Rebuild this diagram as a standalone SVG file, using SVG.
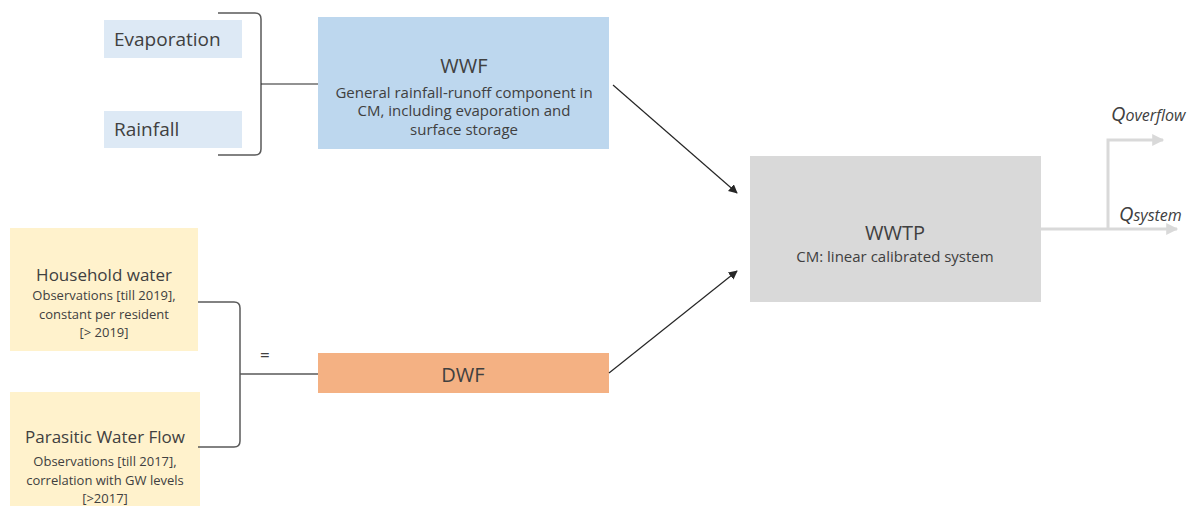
<svg xmlns="http://www.w3.org/2000/svg" width="1193" height="506" viewBox="0 0 1193 506">
<style>
text{font-family:"Open Sans","Liberation Sans",sans-serif;fill:#404040}
.t20{font-size:20px}
.t19{font-size:19px}
.t17{font-size:17px}
.s15{font-size:15px}
.s13{font-size:13px}
.mid{text-anchor:middle}
.brk{fill:none;stroke:#595959;stroke-width:1.5}
.ln{fill:none;stroke:#262626;stroke-width:1.2}
.out{fill:none;stroke:#d9d9d9;stroke-width:3}
.q{font-style:italic}
</style>
<defs>
<marker id="ah" viewBox="0 0 10 10" refX="9" refY="5" markerWidth="9" markerHeight="9" markerUnits="userSpaceOnUse" orient="auto"><path d="M0,0 L10,5 L0,10 z" fill="#262626"/></marker>
<marker id="ag" viewBox="0 0 10 10" refX="9" refY="5" markerWidth="13" markerHeight="12" markerUnits="userSpaceOnUse" orient="auto"><path d="M0,0 L10,5 L0,10 z" fill="#d9d9d9"/></marker>
</defs>
<rect width="1193" height="506" fill="#ffffff"/>

<g id="evaporation"><rect x="104" y="20" width="138" height="38" fill="#dde9f5"/><text class="t19" x="114" y="46">Evaporation</text></g>
<g id="rainfall"><rect x="104" y="111" width="138" height="37" fill="#dde9f5"/><text class="t19" x="114" y="136">Rainfall</text></g>
<g id="wwf"><rect x="318" y="17" width="291" height="132" fill="#bdd7ee"/>
<text class="t20 mid" x="464" y="73">WWF</text>
<text class="s15 mid" x="464" y="98">General rainfall-runoff component in</text>
<text class="s15 mid" x="464" y="116">CM, including evaporation and</text>
<text class="s15 mid" x="464" y="135">surface storage</text></g>

<g id="household"><rect x="10" y="228" width="188" height="123" fill="#fff2cc"/>
<text class="t17 mid" x="104" y="281">Household water</text>
<text class="s13 mid" x="104" y="300">Observations [till 2019],</text>
<text class="s13 mid" x="104" y="319">constant per resident</text>
<text class="s13 mid" x="104" y="337">[&gt; 2019]</text></g>
<g id="parasitic"><rect x="10" y="392" width="190" height="114" fill="#fff2cc"/>
<text class="t17 mid" x="105" y="443">Parasitic Water Flow</text>
<text class="s13 mid" x="105" y="466">Observations [till 2017],</text>
<text class="s13 mid" x="105" y="485">correlation with GW levels</text>
<text class="s13 mid" x="105" y="503">[&gt;2017]</text></g>
<g id="dwf"><rect x="318" y="353" width="291" height="40" fill="#f4b183"/><text class="t20 mid" x="463" y="382">DWF</text></g>
<g id="wwtp"><rect x="750" y="156" width="291" height="146" fill="#d9d9d9"/>
<text class="t20 mid" x="895" y="240">WWTP</text>
<text class="s15 mid" x="895" y="262">CM: linear calibrated system</text></g>

<g id="connectors">
<path class="brk" d="M218,13 L255,13 Q261,13 261,19 L261,149 Q261,155 255,155 L218,155"/>
<path class="ln" d="M261,84 L318,84"/>
<path class="brk" d="M198,302 L234,302 Q240,302 240,308 L240,441 Q240,447 234,447 L198,447"/>
<path class="brk" d="M240,374 L318,374"/>
<text class="t17" x="260" y="361">=</text>
<path class="ln" d="M613,85 L737,193" marker-end="url(#ah)"/>
<path class="ln" d="M609,373 L737,271" marker-end="url(#ah)"/>
<path class="out" d="M1041,229 L1177,229" marker-end="url(#ag)"/>
<path class="out" d="M1108,229 L1108,140 L1163,140" marker-end="url(#ag)"/>
</g>
<g id="labels">
<text class="q" x="1111" y="121"><tspan font-size="20">Q</tspan><tspan font-size="16">overflow</tspan></text>
<text class="q" x="1119" y="221"><tspan font-size="20">Q</tspan><tspan font-size="16">system</tspan></text>
</g>
</svg>
